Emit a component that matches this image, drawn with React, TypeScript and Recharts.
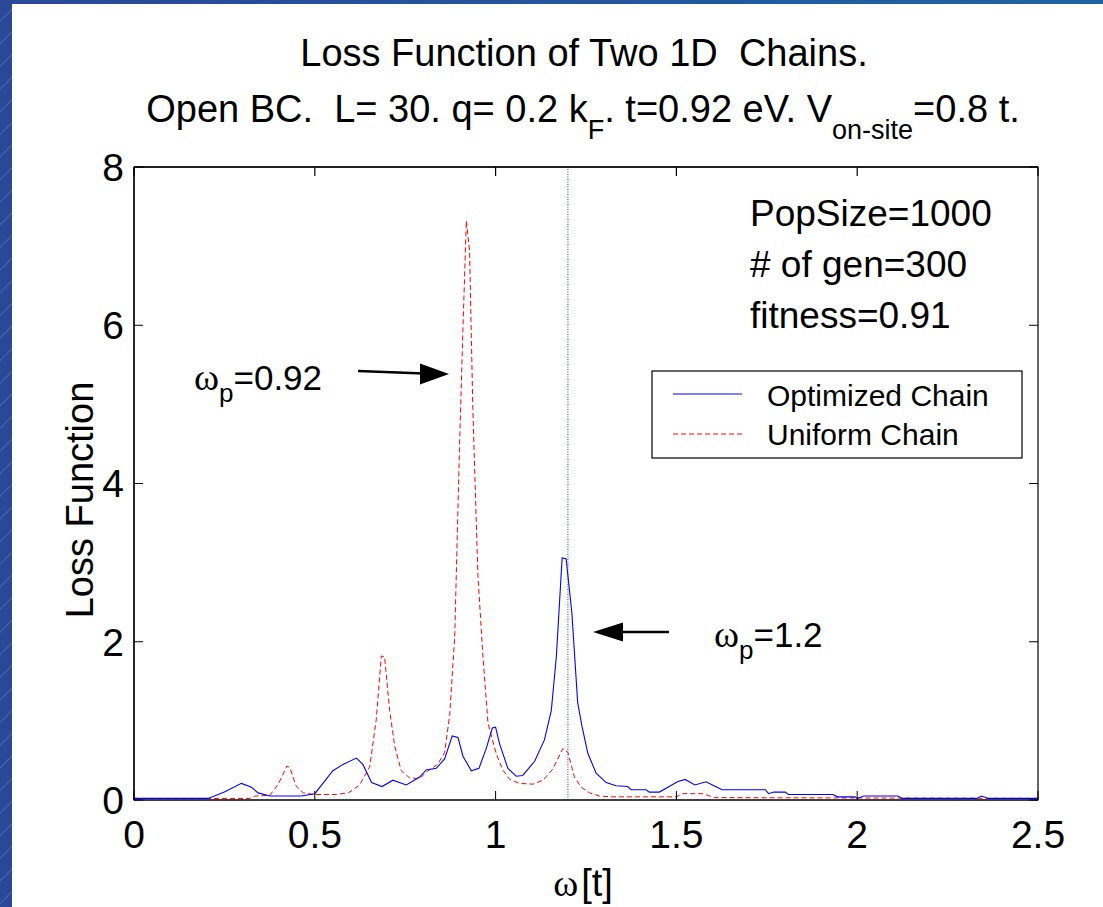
import React from 'react';
import { LineChart, Line, XAxis, YAxis, ReferenceLine, ReferenceArea } from 'recharts';

// ---- data ----
const optimizedOmega = [
  0, 0.205, 0.25, 0.297, 0.325, 0.343, 0.376, 0.463, 0.5, 0.55, 0.578, 0.615, 0.633, 0.657, 0.686,
  0.716, 0.753, 0.79, 0.808, 0.836, 0.859, 0.88, 0.896, 0.91, 0.933, 0.954, 0.974, 0.991, 1.0, 1.011,
  1.034, 1.057, 1.075, 1.108, 1.135, 1.154, 1.168, 1.184, 1.195, 1.211, 1.227, 1.239, 1.255, 1.278,
  1.306, 1.333, 1.365, 1.375, 1.416, 1.425, 1.453, 1.48, 1.503, 1.524, 1.551, 1.582, 1.608, 1.626,
  1.746, 1.755, 1.769, 1.801, 1.81, 1.932, 1.946, 1.994, 2.0, 2.018, 2.113, 2.123, 2.33, 2.344, 2.363, 2.5,
];
const optimizedLoss = [
  0.02, 0.02, 0.1, 0.21, 0.16, 0.09, 0.05, 0.05, 0.08, 0.37, 0.45, 0.53, 0.45, 0.22, 0.17,
  0.25, 0.19, 0.29, 0.38, 0.4, 0.52, 0.81, 0.79, 0.55, 0.37, 0.4, 0.65, 0.91, 0.92, 0.71,
  0.4, 0.3, 0.31, 0.49, 0.76, 1.13, 1.81, 3.06, 3.05, 2.36, 1.23, 0.93, 0.59, 0.34,
  0.22, 0.18, 0.17, 0.13, 0.13, 0.1, 0.1, 0.17, 0.23, 0.26, 0.19, 0.23, 0.17, 0.13,
  0.13, 0.08, 0.1, 0.1, 0.07, 0.07, 0.04, 0.04, 0.02, 0.05, 0.05, 0.02, 0.02, 0.05, 0.02, 0.02,
];
const uniformOmega = [
  0, 0.32, 0.335, 0.376, 0.399, 0.423, 0.431, 0.448, 0.468, 0.496, 0.56, 0.593, 0.624, 0.652, 0.67,
  0.684, 0.693, 0.707, 0.721, 0.739, 0.762, 0.79, 0.813, 0.84, 0.859, 0.873, 0.887, 0.9, 0.91, 0.919,
  0.928, 0.937, 0.951, 0.965, 0.979, 1.002, 1.02, 1.039, 1.066, 1.103, 1.131, 1.158, 1.186, 1.2,
  1.218, 1.237, 1.26, 1.287, 1.324, 1.499, 1.518, 1.573, 1.605, 2.5,
];
const uniformLoss = [
  0.02, 0.02, 0.05, 0.06, 0.2, 0.43, 0.41, 0.18, 0.09, 0.07, 0.07, 0.09, 0.19, 0.42, 1.02,
  1.82, 1.81, 1.13, 0.68, 0.37, 0.28, 0.27, 0.37, 0.45, 0.6, 1.07, 2.07, 4.43, 6.0, 7.32,
  6.94, 4.95, 2.85, 1.81, 0.97, 0.58, 0.38, 0.26, 0.21, 0.2, 0.25, 0.39, 0.65, 0.6,
  0.29, 0.16, 0.09, 0.05, 0.04, 0.04, 0.08, 0.08, 0.03, 0.02,
];
const xTicks = [0, 0.5, 1, 1.5, 2, 2.5];
const yTicks = [0, 2, 4, 6, 8];
const plasmonMarker = 1.2;
const seriesNames = ['Optimized Chain', 'Uniform Chain'];
const infoLines = ['PopSize=1000', '# of gen=300', 'fitness=0.91'];

const optimizedData = optimizedOmega.map((w, i) => ({ w, v: optimizedLoss[i] }));
const uniformData = uniformOmega.map((w, i) => ({ w, v: uniformLoss[i] }));

const W = 1103;
const H = 907;
const MARGIN = { top: 167, right: 65, bottom: 47, left: 74 };
const X_AXIS_H = 60;
const Y_AXIS_W = 60;
const PLOT_TOP = MARGIN.top;
const PLOT_LEFT = MARGIN.left + Y_AXIS_W;
const PLOT_RIGHT = W - MARGIN.right;

const SANS = '"Liberation Sans", Arial, Helvetica, sans-serif';
const SERIF = '"Liberation Serif", "DejaVu Serif", "Times New Roman", serif';
const BLUE = '#0000ff';
const RED = '#ff0000';
const TICK_LEN = 9;
const X_MARGIN = 20;
const Y_MARGIN = 10;

// bottom tick: label + inward tick; also reports x positions for the mirrored top ticks
const BottomTick = (props: any) => {
  const { x, y, payload } = props;
  const axisY = y - X_MARGIN;
  return (
    <g>
      <line x1={x} x2={x} y1={axisY} y2={axisY - TICK_LEN} stroke="#000" strokeWidth={1} />
      <line x1={x} x2={x} y1={PLOT_TOP + 0.5} y2={PLOT_TOP + TICK_LEN} stroke="#000" strokeWidth={1.2} />
      <text x={x} y={y} dy="0.71em" textAnchor="middle" fontFamily={SANS} fontSize={39} fill="#000">
        {String(payload.value)}
      </text>
    </g>
  );
};

// left tick: label + inward tick at left + mirrored inward tick at right
const LeftTick = (props: any) => {
  const { x, y, payload } = props;
  const axisX = x + Y_MARGIN;
  return (
    <g>
      <line x1={axisX} x2={axisX + TICK_LEN} y1={y} y2={y} stroke="#000" strokeWidth={1} />
      <line x1={PLOT_RIGHT} x2={PLOT_RIGHT - TICK_LEN} y1={y} y2={y} stroke="#000" strokeWidth={1} />
      <text x={x} y={y} dy="0.355em" textAnchor="end" fontFamily={SANS} fontSize={39} fill="#000">
        {String(payload.value)}
      </text>
    </g>
  );
};

export default function App() {
  return (
    <div style={{ position: 'absolute', left: 0, top: 0, width: W, height: H, background: '#fff', overflow: 'hidden' }}>
      {/* slide frame */}
      <div style={{ position: 'absolute', left: 0, top: 0, width: 12, height: H, background: 'repeating-linear-gradient(135deg, #2a4798 0px, #2a4798 14px, #4a67b0 15px, #2a4798 16px)' }} />
      <div style={{ position: 'absolute', left: 0, top: 0, width: W, height: 4, background: 'linear-gradient(90deg, #2a4798, #1f63a2)' }} />

      <div style={{ position: 'absolute', left: 0, top: 0 }}>
        <LineChart width={W} height={H} margin={MARGIN}>
          <ReferenceArea
            x1={0}
            x2={2.5}
            y1={0}
            y2={8}
            fill="none"
            stroke="#000"
            strokeWidth={1.2}
            ifOverflow="visible"
          />
          <XAxis
            dataKey="w"
            type="number"
            domain={[0, 2.5]}
            ticks={xTicks}
            interval={0}
            height={X_AXIS_H}
            tickSize={0}
            tickMargin={X_MARGIN}
            tick={<BottomTick />}
            tickLine={false}
            axisLine={{ stroke: '#000', strokeWidth: 1.2 }}
            allowDataOverflow
          />
          <YAxis
            type="number"
            domain={[0, 8]}
            ticks={yTicks}
            interval={0}
            width={Y_AXIS_W}
            tickSize={0}
            tickMargin={Y_MARGIN}
            tick={<LeftTick />}
            tickLine={false}
            axisLine={{ stroke: '#000', strokeWidth: 1.2 }}
            allowDataOverflow
          />
          <ReferenceLine x={plasmonMarker} stroke="#2233ff" strokeWidth={1} strokeDasharray="1 1.5" />
          <Line
            data={uniformData}
            dataKey="v"
            name={seriesNames[1]}
            type="linear"
            stroke={RED}
            strokeWidth={1}
            strokeDasharray="5 3"
            dot={false}
            activeDot={false}
            isAnimationActive={false}
          />
          <Line
            data={optimizedData}
            dataKey="v"
            name={seriesNames[0]}
            type="linear"
            stroke={BLUE}
            strokeWidth={1.1}
            dot={false}
            activeDot={false}
            isAnimationActive={false}
          />
        </LineChart>
      </div>

      {/* text overlay */}
      <svg width={W} height={H} style={{ position: 'absolute', left: 0, top: 0, pointerEvents: 'none' }}>
        {/* top edge of the axes box */}
        <line x1={PLOT_LEFT} x2={PLOT_RIGHT} y1={PLOT_TOP} y2={PLOT_TOP} stroke="#000" strokeWidth={1.5} />
        <g fontFamily={SANS} fill="#000">
          <text x={584} y={66} textAnchor="middle" fontSize={38} style={{ whiteSpace: 'pre' }}>Loss Function of Two 1D  Chains.</text>
          <text x={583} y={122} textAnchor="middle" fontSize={38} style={{ whiteSpace: 'pre' }}>
            <tspan>Open BC.  L= 30. q= 0.2 k</tspan>
            <tspan fontSize={27} dy={17}>F</tspan>
            <tspan dy={-17}>. t=0.92 eV. V</tspan>
            <tspan fontSize={27} dy={17}>on-site</tspan>
            <tspan dy={-17}>=0.8 t.</tspan>
          </text>

          <text transform="translate(93 500) rotate(-90)" textAnchor="middle" fontSize={38}>Loss Function</text>

          <text x={583} y={896} textAnchor="middle" fontSize={38}>
            <tspan fontFamily={SERIF}>ω</tspan>
            <tspan dx={3}>[t]</tspan>
          </text>

          {infoLines.map((s, i) => (
            <text key={s} x={750} y={226 + i * 51} fontSize={37}>{s}</text>
          ))}

          {/* omega_p = 0.92 */}
          <text x={194} y={390} fontSize={35}>
            <tspan fontFamily={SERIF} fontSize={38}>ω</tspan>
            <tspan fontSize={26} dy={12}>p</tspan>
            <tspan dy={-12}>=0.92</tspan>
          </text>
          <line x1={358} y1={371} x2={424} y2={373.5} stroke="#000" strokeWidth={2.5} />
          <polygon points="449,374 420,363.5 420,384.5" fill="#000" />

          {/* omega_p = 1.2 */}
          <text x={714} y={647} fontSize={35}>
            <tspan fontFamily={SERIF} fontSize={38}>ω</tspan>
            <tspan fontSize={26} dy={12}>p</tspan>
            <tspan dy={-12}>=1.2</tspan>
          </text>
          <line x1={669} y1={632} x2={618} y2={632} stroke="#000" strokeWidth={2.5} />
          <polygon points="593,632 623,622.5 623,641.5" fill="#000" />

          {/* legend */}
          <rect x={652} y={371} width={370} height={87} fill="#fff" stroke="#000" strokeWidth={1.2} />
          <line x1={673} y1={394} x2={742} y2={394} stroke={BLUE} strokeWidth={1} />
          <line x1={673} y1={434} x2={742} y2={434} stroke={RED} strokeWidth={1} strokeDasharray="5 3" />
          <text x={767} y={406} fontSize={30}>{seriesNames[0]}</text>
          <text x={767} y={445} fontSize={30}>{seriesNames[1]}</text>
        </g>
      </svg>
    </div>
  );
}
